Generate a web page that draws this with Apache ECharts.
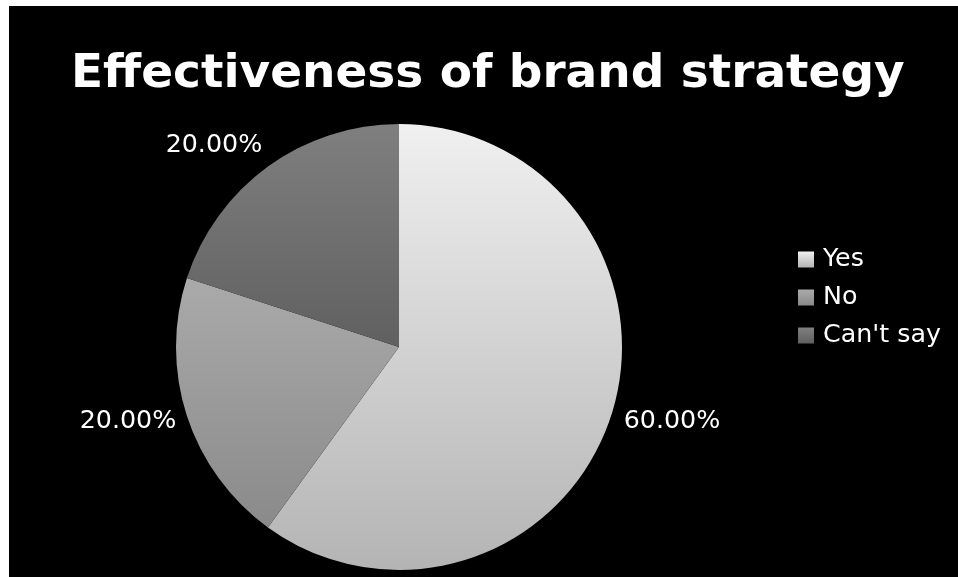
<!DOCTYPE html>
<html>
<head>
<meta charset="utf-8">
<script src="https://cdn.jsdelivr.net/npm/echarts@6/dist/echarts.min.js"></script>
<style>
  html, body { margin: 0; padding: 0; background: #ffffff; }
  #chart { position: absolute; left: 9px; top: 6px; width: 949px; height: 571px; background: #000000; }
</style>
</head>
<body>
<div id="chart"></div>
<script>
// Survey answers and their shares (percent)
const categories = ['Yes', 'No', "Can't say"];
const shares = [60, 20, 20];
// Vertical shading for each slice: [top colour, bottom colour]
const shades = [
  ['#f0f0f0', '#b4b4b4'],
  ['#aaaaaa', '#8a8a8a'],
  ['#7f7f7f', '#606060']
];
// Nudges for the value labels so they sit beside their slices
const labelNudge = [[0, 3], [2, 3], [4, -15]];

function vGrad(pair) {
  return new echarts.graphic.LinearGradient(0, 0, 0, 1, [
    { offset: 0, color: pair[0] },
    { offset: 1, color: pair[1] }
  ]);
}

const chart = echarts.init(document.getElementById('chart'), null, { renderer: 'canvas' });

chart.setOption({
  backgroundColor: '#000000',
  animation: false,
  title: {
    text: 'Effectiveness of brand strategy',
    left: 57,
    top: 40,
    textStyle: {
      color: '#ffffff',
      fontFamily: 'DejaVu Sans',
      fontWeight: 'bold',
      fontSize: 47
    }
  },
  legend: {
    orient: 'vertical',
    left: 784,
    top: 236,
    itemWidth: 16,
    itemHeight: 16,
    itemGap: 13,
    icon: 'rect',
    textStyle: {
      color: '#ffffff',
      fontFamily: 'DejaVu Sans',
      fontSize: 25.33,
      lineHeight: 25,
      padding: [0, 0, 0, 4]
    },
    data: categories
  },
  series: [{
    type: 'pie',
    center: [390, 341],
    radius: 223,
    startAngle: 90,
    clockwise: true,
    avoidLabelOverlap: false,
    label: {
      show: true,
      position: 'outside',
      color: '#ffffff',
      fontFamily: 'DejaVu Sans',
      fontSize: 25.33,
      formatter: p => p.value.toFixed(2) + '%'
    },
    labelLine: { show: false, length: 8, length2: 0 },
    labelLayout: p => ({ dx: labelNudge[p.dataIndex][0], dy: labelNudge[p.dataIndex][1] }),
    itemStyle: { borderWidth: 0 },
    emphasis: { disabled: true },
    data: categories.map((name, i) => ({
      name: name,
      value: shares[i],
      itemStyle: { color: vGrad(shades[i]) }
    }))
  }]
});
</script>
</body>
</html>
